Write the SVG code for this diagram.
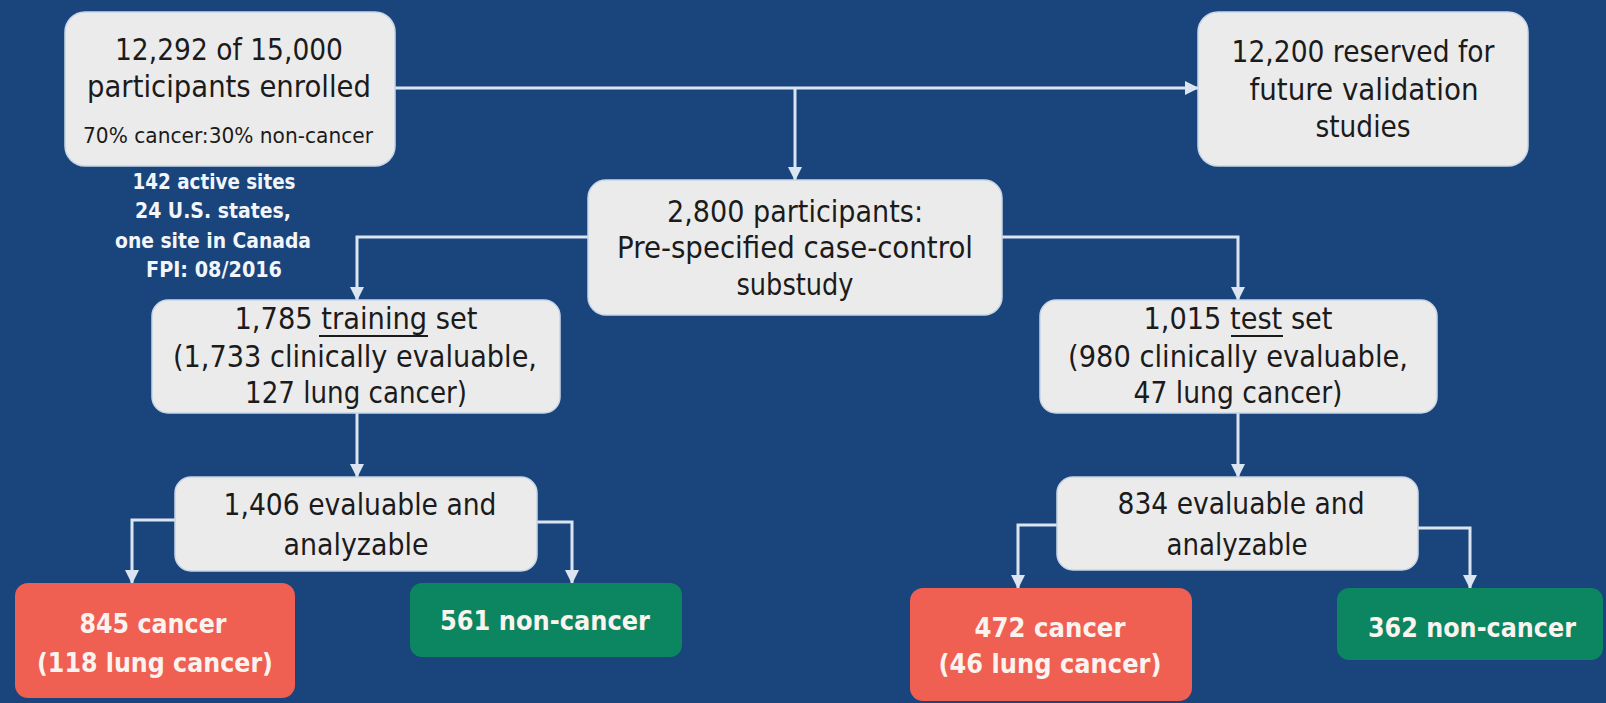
<svg xmlns="http://www.w3.org/2000/svg" width="1606" height="703" viewBox="0 0 1606 703">
<defs>
<marker id="ah" viewBox="0 0 14 14" refX="13" refY="7" markerWidth="14" markerHeight="14" markerUnits="userSpaceOnUse" orient="auto">
<path d="M0,0 L14,7 L0,14 Z" fill="#dbe5f2"/>
</marker>
<style>
.bg{fill:#19457c}
.box{fill:#ebebeb;stroke:#c9d6e6;stroke-width:1.5}
.red{fill:#ef5f52}
.green{fill:#0b8660}
.t{font-family:"DejaVu Sans","Liberation Sans",sans-serif;font-size:30px;fill:#1b1b1b;text-anchor:middle}
.s{font-size:21px}
.w{font-family:"DejaVu Sans","Liberation Sans",sans-serif;font-size:21px;font-weight:bold;fill:#f2f5fa;text-anchor:middle}
.c{font-family:"DejaVu Sans","Liberation Sans",sans-serif;font-size:27px;font-weight:bold;fill:#fbf3ef;text-anchor:middle}
.ul{stroke:#1b1b1b;stroke-width:2}
.con path{fill:none;stroke:#dbe5f2;stroke-width:3;marker-end:url(#ah)}
</style>
</defs>
<rect class="bg" x="0" y="0" width="1606" height="703"/>

<g id="connectors" class="con">
<path d="M395,88 H1198"/>
<path d="M795,88 V180"/>
<path d="M588,237 H357 V300"/>
<path d="M1002,237 H1238 V300"/>
<path d="M357,413 V477"/>
<path d="M1238,413 V477"/>
<path d="M175,520 H132 V583"/>
<path d="M537,522 H572 V583"/>
<path d="M1057,525 H1018 V588"/>
<path d="M1418,528 H1470 V588"/>
</g>

<g id="enrolled">
<rect class="box" x="65" y="12" width="330" height="154" rx="20"/>
<text class="t" x="229" y="60" textLength="228" lengthAdjust="spacingAndGlyphs">12,292 of 15,000</text>
<text class="t" x="229" y="97" textLength="284" lengthAdjust="spacingAndGlyphs">participants enrolled</text>
<text class="t s" x="228" y="143" textLength="290" lengthAdjust="spacingAndGlyphs">70% cancer:30% non-cancer</text>
</g>

<g id="sites">
<text class="w" x="214" y="189" textLength="163" lengthAdjust="spacingAndGlyphs">142 active sites</text>
<text class="w" x="213" y="218" textLength="156" lengthAdjust="spacingAndGlyphs">24 U.S. states,</text>
<text class="w" x="213" y="248" textLength="196" lengthAdjust="spacingAndGlyphs">one site in Canada</text>
<text class="w" x="214" y="277" textLength="136" lengthAdjust="spacingAndGlyphs">FPI: 08/2016</text>
</g>

<g id="reserved">
<rect class="box" x="1198" y="12" width="330" height="154" rx="20"/>
<text class="t" x="1363" y="62" textLength="263" lengthAdjust="spacingAndGlyphs">12,200 reserved for</text>
<text class="t" x="1364" y="100" textLength="229" lengthAdjust="spacingAndGlyphs">future validation</text>
<text class="t" x="1363" y="137" textLength="95" lengthAdjust="spacingAndGlyphs">studies</text>
</g>

<g id="substudy">
<rect class="box" x="588" y="180" width="414" height="135" rx="18"/>
<text class="t" x="795" y="222" textLength="256" lengthAdjust="spacingAndGlyphs">2,800 participants:</text>
<text class="t" x="795" y="258" textLength="356" lengthAdjust="spacingAndGlyphs">Pre-specified case-control</text>
<text class="t" x="795" y="295" textLength="117" lengthAdjust="spacingAndGlyphs">substudy</text>
</g>

<g id="training">
<rect class="box" x="152" y="300" width="408" height="113" rx="16"/>
<text class="t" x="356" y="329" textLength="243" lengthAdjust="spacingAndGlyphs">1,785 training set</text>
<line class="ul" x1="319" y1="336" x2="428" y2="336"/>
<text class="t" x="355" y="367" textLength="364" lengthAdjust="spacingAndGlyphs">(1,733 clinically evaluable,</text>
<text class="t" x="356" y="403" textLength="222" lengthAdjust="spacingAndGlyphs">127 lung cancer)</text>
</g>

<g id="test">
<rect class="box" x="1040" y="300" width="397" height="113" rx="16"/>
<text class="t" x="1238" y="329" textLength="189" lengthAdjust="spacingAndGlyphs">1,015 test set</text>
<line class="ul" x1="1231" y1="336" x2="1283" y2="336"/>
<text class="t" x="1238" y="367" textLength="340" lengthAdjust="spacingAndGlyphs">(980 clinically evaluable,</text>
<text class="t" x="1238" y="403" textLength="209" lengthAdjust="spacingAndGlyphs">47 lung cancer)</text>
</g>

<g id="eval-train">
<rect class="box" x="175" y="477" width="362" height="94" rx="16"/>
<text class="t" x="360" y="515" textLength="273" lengthAdjust="spacingAndGlyphs">1,406 evaluable and</text>
<text class="t" x="356" y="555" textLength="145" lengthAdjust="spacingAndGlyphs">analyzable</text>
</g>

<g id="eval-test">
<rect class="box" x="1057" y="477" width="361" height="93" rx="16"/>
<text class="t" x="1241" y="514" textLength="247" lengthAdjust="spacingAndGlyphs">834 evaluable and</text>
<text class="t" x="1237" y="555" textLength="141" lengthAdjust="spacingAndGlyphs">analyzable</text>
</g>

<g id="cancer-train">
<rect class="red" x="15" y="583" width="280" height="115" rx="13"/>
<text class="c" x="153" y="633" textLength="147" lengthAdjust="spacingAndGlyphs">845 cancer</text>
<text class="c" x="155" y="672" textLength="236" lengthAdjust="spacingAndGlyphs">(118 lung cancer)</text>
</g>

<g id="noncancer-train">
<rect class="green" x="410" y="583" width="272" height="74" rx="12"/>
<text class="c" x="545" y="630" textLength="210" lengthAdjust="spacingAndGlyphs">561 non-cancer</text>
</g>

<g id="cancer-test">
<rect class="red" x="910" y="588" width="282" height="113" rx="13"/>
<text class="c" x="1050" y="637" textLength="151" lengthAdjust="spacingAndGlyphs">472 cancer</text>
<text class="c" x="1050" y="673" textLength="223" lengthAdjust="spacingAndGlyphs">(46 lung cancer)</text>
</g>

<g id="noncancer-test">
<rect class="green" x="1337" y="588" width="266" height="72" rx="12"/>
<text class="c" x="1472" y="637" textLength="208" lengthAdjust="spacingAndGlyphs">362 non-cancer</text>
</g>
</svg>
